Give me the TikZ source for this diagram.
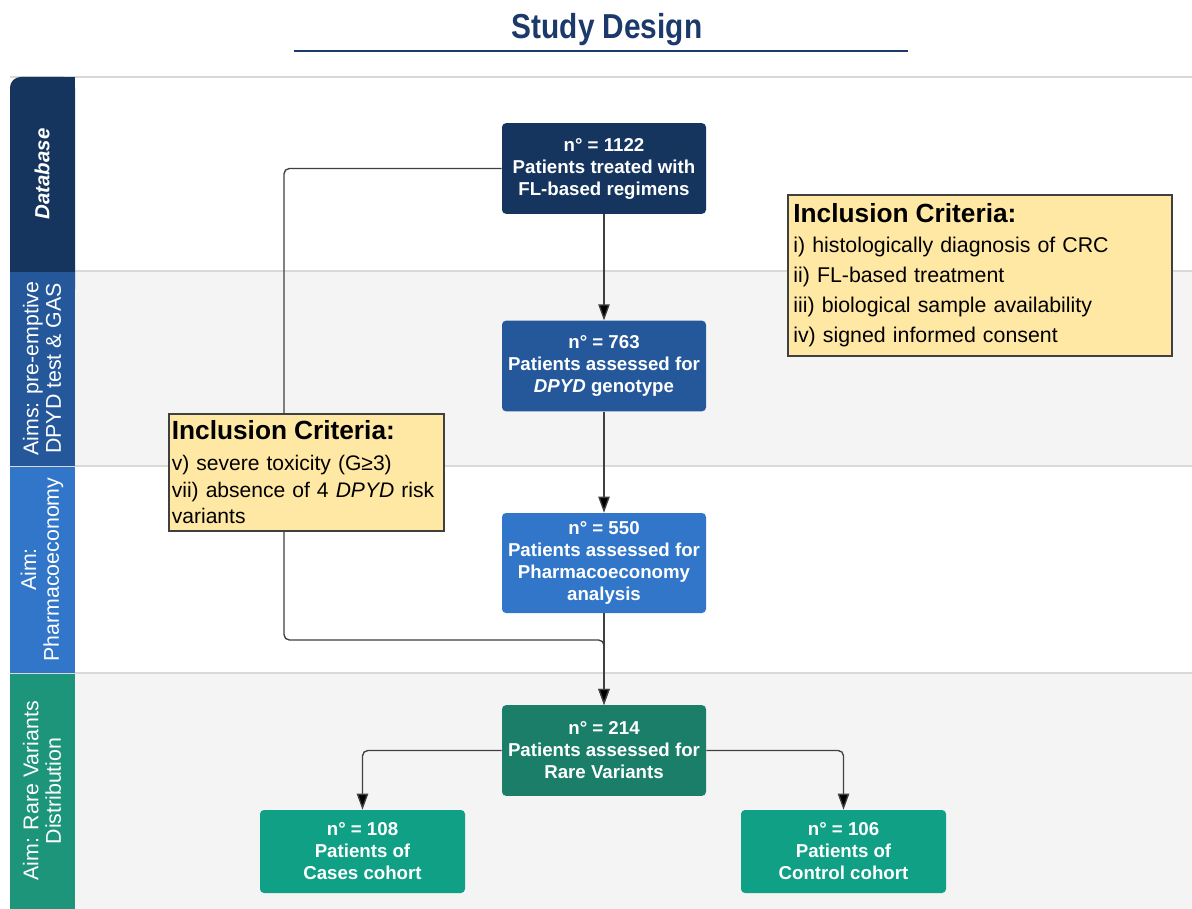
\documentclass[tikz,border=0pt]{standalone}
\usepackage{fontspec}
\setmainfont{Liberation Sans}
\usetikzlibrary{arrows.meta}

\definecolor{titleblue}{HTML}{1B3A6B}
\definecolor{navy}{HTML}{15355F}
\definecolor{midblue}{HTML}{24589A}
\definecolor{lightblue}{HTML}{3176C9}
\definecolor{laneteal}{HTML}{1C957B}
\definecolor{darkteal}{HTML}{1A7E69}
\definecolor{cohort}{HTML}{0FA086}
\definecolor{notefill}{HTML}{FFE8A3}
\definecolor{lanegray}{HTML}{F4F4F4}
\definecolor{rulegray}{HTML}{D9D9D9}

\tikzset{
  flow/.style = {rectangle, rounded corners=3pt, fill=#1, text=white,
                 font=\bfseries\fontsize{14}{16.5}\selectfont, align=center,
                 minimum width=153pt, minimum height=68pt, inner sep=0pt},
  flow/.default = navy,
  note/.style = {rectangle, fill=notefill, draw=black!75, line width=0.9pt,
                 align=left, inner xsep=4pt, inner ysep=0pt},
  lane/.style = {rotate=90, text=white, align=center,
                 font=\fontsize{16}{17}\selectfont},
  link/.style = {draw=black!75, line width=1pt, rounded corners=4pt,
                 -{Triangle[length=12pt,width=8.5pt,fill=black]}}
}
\newcommand{\notehead}{\bfseries\fontsize{19.7}{22}\selectfont}

\begin{document}
\begin{tikzpicture}[x=0.75pt, y=-0.75pt]
	\useasboundingbox (0,0) rectangle (1192,909);
	\fill[white] (0,0) rectangle (1192,909);

	% Title
	\node[text=titleblue, font=\bfseries\fontsize{26}{30}\selectfont] (title) at (607,30) {\scalebox{0.86}[1]{Study Design}};
	\draw[titleblue, line width=2pt] (294,51) -- (908,51);

	% Lane backgrounds and rules
	\fill[lanegray] (75,271) rectangle (1192,466);
	\fill[lanegray] (75,673) rectangle (1192,909);
	\draw[rulegray, line width=1.5pt] (10,77) -- (1192,77);
	\draw[rulegray, line width=1pt]   (10,271) -- (1192,271);
	\draw[rulegray, line width=1pt]   (10,466) -- (1192,466);
	\draw[rulegray, line width=1pt]   (10,673) -- (1192,673);

	% Lane headers
	\fill[navy, rounded corners=8pt] (10,77) rectangle (75,300);
	\fill[navy] (40,77) rectangle (75,120);
	\fill[midblue]   (10,272) rectangle (75,465.5);
	\fill[lightblue] (10,467) rectangle (75,672.5);
	\fill[laneteal]  (10,674) rectangle (75,909);

	\node[lane, font=\bfseries\itshape\fontsize{15.3}{17}\selectfont] (hdb) at (42,174) {Database};
	\node[lane] (hgeno) at (42,368.5) {Aims: pre-emptive\\DPYD test \& GAS};
	\node[lane] (hecon) at (42,569.5) {Aim:\\Pharmacoeconomy};
	\node[lane] (hrare) at (42,791)   {Aim: Rare Variants\\Distribution};

	% Patient flow
	\node[flow=navy] (pool) at (604,168.5) {n° = 1122\\Patients treated with\\FL-based regimens};
	\node[flow=midblue] (geno) at (604,366) {n° = 763\\Patients assessed for\\\textit{DPYD} genotype};
	\node[flow=lightblue, minimum height=75pt] (econ) at (604,563) {n° = 550\\Patients assessed for\\Pharmacoeconomy\\analysis};
	\node[flow=darkteal] (rare) at (604,750.5) {n° = 214\\Patients assessed for\\Rare Variants};
	\node[flow=cohort, minimum width=153.75pt, minimum height=62.25pt] (cases) at (362.5,851.5) {n° = 108\\Patients of\\Cases cohort};
	\node[flow=cohort, minimum width=153.75pt, minimum height=62.25pt] (controls) at (843.5,851.5) {n° = 106\\Patients of\\Control cohort};

	% Connectors
	\coordinate (detour) at (284,640);
	\draw[link] (pool) -- (geno);
	\draw[link] (geno) -- (econ);
	\draw[link] (econ) -- (rare);
	\draw[link] (pool.west) -| (detour) -| (rare.north);
	\draw[link] (rare.west) -| (cases.north);
	\draw[link] (rare.east) -| (controls.north);

	% Criteria
	\node[note, minimum width=288pt, minimum height=120.75pt, text width=280pt,
	      font=\fontsize{16}{22.5}\selectfont] (critA) at (980,275.5)
	  {{\notehead Inclusion Criteria:}\\
	   i) histologically diagnosis of CRC\\
	   ii) FL-based treatment\\
	   iii) biological sample availability\\
	   iv) signed informed consent};
	\node[note, minimum width=206.25pt, minimum height=87.75pt, text width=202pt,
	      inner xsep=2pt, font=\fontsize{15.8}{20}\selectfont] (critB) at (306.5,472.5)
	  {{\notehead Inclusion Criteria:}\\[3pt]
	   v) severe toxicity (G≥3)\\
	   vii) absence of 4 \textit{DPYD} risk\\
	   variants};

\end{tikzpicture}
\end{document}
